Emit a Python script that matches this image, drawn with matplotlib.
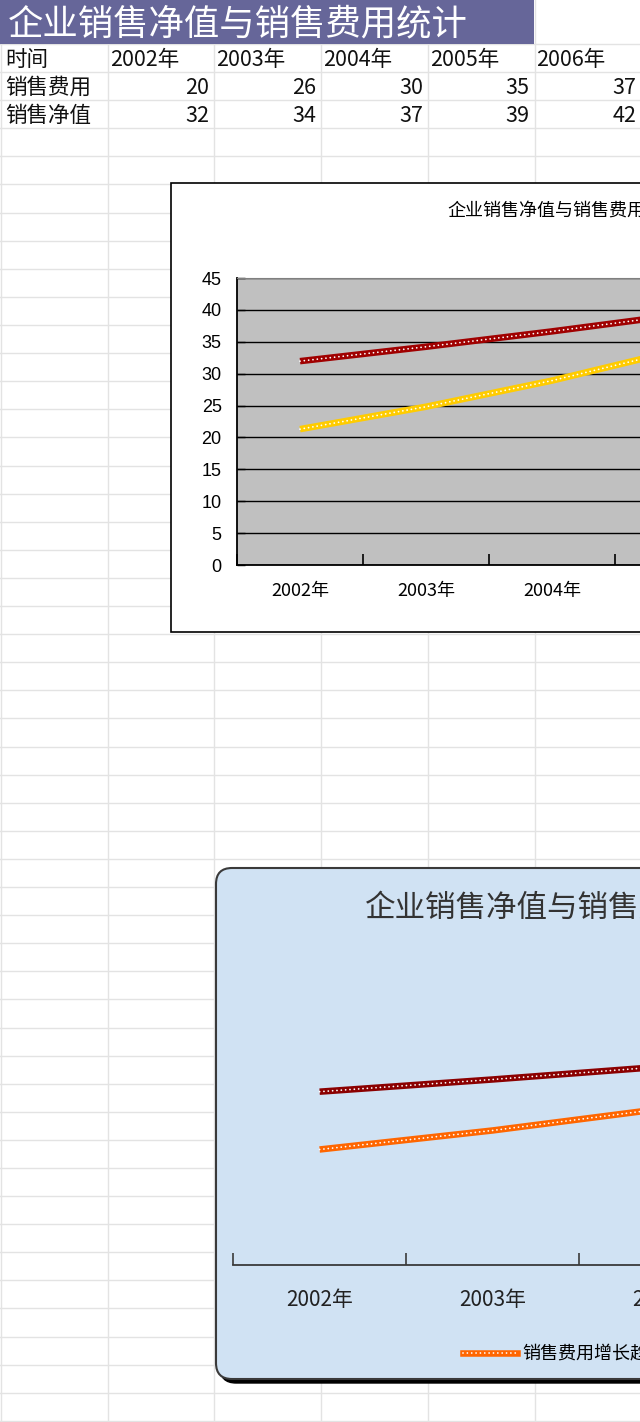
import numpy as np
import matplotlib
matplotlib.use("Agg")
import matplotlib.pyplot as plt
from matplotlib.patches import Rectangle, FancyBboxPatch
from matplotlib.lines import Line2D
from matplotlib.legend_handler import HandlerTuple

plt.rcParams['font.family'] = ['Noto Sans CJK SC', 'DejaVu Sans']

# 表格数据
title = "企业销售净值与销售费用统计"
row_names = ["时间", "销售费用", "销售净值"]
years = ["2002年", "2003年", "2004年", "2005年", "2006年"]
cost = [20, 26, 30, 35, 37]        # 销售费用
net = [32, 34, 37, 39, 42]         # 销售净值
legend_labels = ["销售费用增长趋势线", "销售净值增长趋势线"]

W, H = 640, 1422
fig = plt.figure(figsize=(W / 100, H / 100), dpi=100)


def box(left, top, width, height):
    # 像素坐标 -> figure 比例
    return [left / W, 1 - (top + height) / H, width / W, height / H]


# 1. 工作表背景
sheet = fig.add_axes([0, 0, 1, 1])
sheet.set_xlim(0, W)
sheet.set_ylim(H, 0)
sheet.axis("off")

col_w = 106.7
row_h = 28.1
row0 = 44
grid_c = "#e3e3e3"
for i in range(7):
    sheet.plot([i * col_w + 1, i * col_w + 1], [0, H], color=grid_c, lw=1, zorder=1)
y = row0
while y < H:
    sheet.plot([0, W], [y, y], color=grid_c, lw=1, zorder=1)
    y += row_h

sheet.add_patch(Rectangle((0, 0), 5 * col_w, row0, fc="#666699", ec="none", zorder=2))
sheet.text(8, row0 / 2 + 2, title, color="white", fontsize=25.5, va="center", ha="left", zorder=3)

fs = 15.5
for r, name in enumerate(row_names):
    sheet.text(5, row0 + row_h * (r + 0.5) + 2, name, fontsize=fs, va="center", color="#111111", zorder=3)
for c, yr in enumerate(years):
    sheet.text(col_w * (c + 1) + 3, row0 + row_h * 0.5 + 2, yr, fontsize=fs, va="center",
               color="#111111", zorder=3)
    sheet.text(col_w * (c + 2) - 4, row0 + row_h * 1.5 + 2, str(cost[c]), fontsize=fs, va="center",
               ha="right", color="#111111", zorder=3)
    sheet.text(col_w * (c + 2) - 4, row0 + row_h * 2.5 + 2, str(net[c]), fontsize=fs, va="center",
               ha="right", color="#111111", zorder=3)

# 趋势线（指数拟合，和 Excel 的趋势线一样）
x = np.arange(len(years))
def exp_trend(vals):
    b, a = np.polyfit(x, np.log(vals), 1)
    return np.exp(a + b * x)

cost_trend = exp_trend(cost)
net_trend = exp_trend(net)

LW = 4.7
DOT = dict(color="white", lw=1.3, dashes=[0.01, 2.4], dash_capstyle="round")


def dotted_line(ax, xs, ys, color):
    ax.plot(xs, ys, color=color, lw=LW, solid_capstyle="butt", zorder=4)
    ax.plot(xs, ys, zorder=5, **DOT)


# 2. 第一个图表
sheet.add_patch(Rectangle((171, 183), 700, 449, fc="white", ec="black", lw=1.2, zorder=5))
sheet.text(447, 212, title, fontsize=13, va="center", ha="left", color="black", zorder=6)

ax1 = fig.add_axes(box(237, 278, 630, 287))
ax1.set_facecolor("#c0c0c0")
ax1.set_xlim(-0.5, len(years) - 0.5)
ax1.set_ylim(0, 45)
ax1.set_yticks(np.arange(0, 46, 5))
ax1.yaxis.grid(True, color="black", lw=1)
ax1.set_axisbelow(True)
ax1.set_xticks(np.arange(-0.5, len(years), 1))
ax1.set_xticklabels([])
ax1.set_xticks(x, years, minor=True)
ax1.tick_params(axis="x", which="major", direction="in", length=8, width=1.2, color="black")
ax1.tick_params(axis="x", which="minor", length=0, pad=12, labelsize=13)
ax1.tick_params(axis="y", direction="in", length=6, width=1, pad=11, labelsize=13)
for lab in ax1.get_yticklabels():
    lab.set_family(["Liberation Sans", "DejaVu Sans"])
for s in ["top", "right"]:
    ax1.spines[s].set_color("#808080")
for s in ["left", "bottom"]:
    ax1.spines[s].set_color("black")
    ax1.spines[s].set_linewidth(1.3)
dotted_line(ax1, x, net_trend, "#a00000")
dotted_line(ax1, x, cost_trend, "#ffcc00")

# 3. 第二个图表（圆角、阴影、浅蓝背景）
sheet.add_patch(FancyBboxPatch((220, 872), 700, 511, boxstyle="round,pad=0,rounding_size=16",
                               fc="black", ec="black", lw=1, zorder=5))
sheet.add_patch(FancyBboxPatch((216, 868), 700, 511, boxstyle="round,pad=0,rounding_size=16",
                               fc="#d0e2f3", ec="#3a3a3a", lw=1.5, zorder=6))
sheet.text(365, 909, title, fontsize=22, va="center", ha="left", color="#333333", zorder=7)

ax2 = fig.add_axes(box(233, 1021, 866, 244))
ax2.set_facecolor("none")
ax2.set_xlim(-0.5, len(years) - 0.5)
ax2.set_ylim(0, 45)
ax2.set_yticks([])
for s in ["top", "right", "left"]:
    ax2.spines[s].set_visible(False)
ax2.spines["bottom"].set_color("#3a3a3a")
ax2.spines["bottom"].set_linewidth(1.3)
ax2.set_xticks(np.arange(-0.5, len(years), 1))
ax2.set_xticklabels([])
ax2.set_xticks(x, years, minor=True)
ax2.tick_params(axis="x", which="major", direction="in", length=9, width=1.2, color="#3a3a3a")
ax2.tick_params(axis="x", which="minor", length=0, pad=17, labelsize=15, labelcolor="#222222")
dotted_line(ax2, x, net_trend, "#8b0000")
dotted_line(ax2, x, cost_trend, "#ff6600")

h_cost = (Line2D([], [], color="#ff6600", lw=LW), Line2D([], [], **DOT))
h_net = (Line2D([], [], color="#8b0000", lw=LW), Line2D([], [], **DOT))
fig.legend([h_cost, h_net], legend_labels, handler_map={tuple: HandlerTuple(ndivide=1, pad=0)},
           loc="center left", bbox_to_anchor=(463 / W, 1 - 1354 / H), ncol=2, frameon=False,
           fontsize=13, handlelength=3.0, handletextpad=0.3, borderpad=0, borderaxespad=0,
           columnspacing=2)

fig.savefig("out.png", dpi=100)
